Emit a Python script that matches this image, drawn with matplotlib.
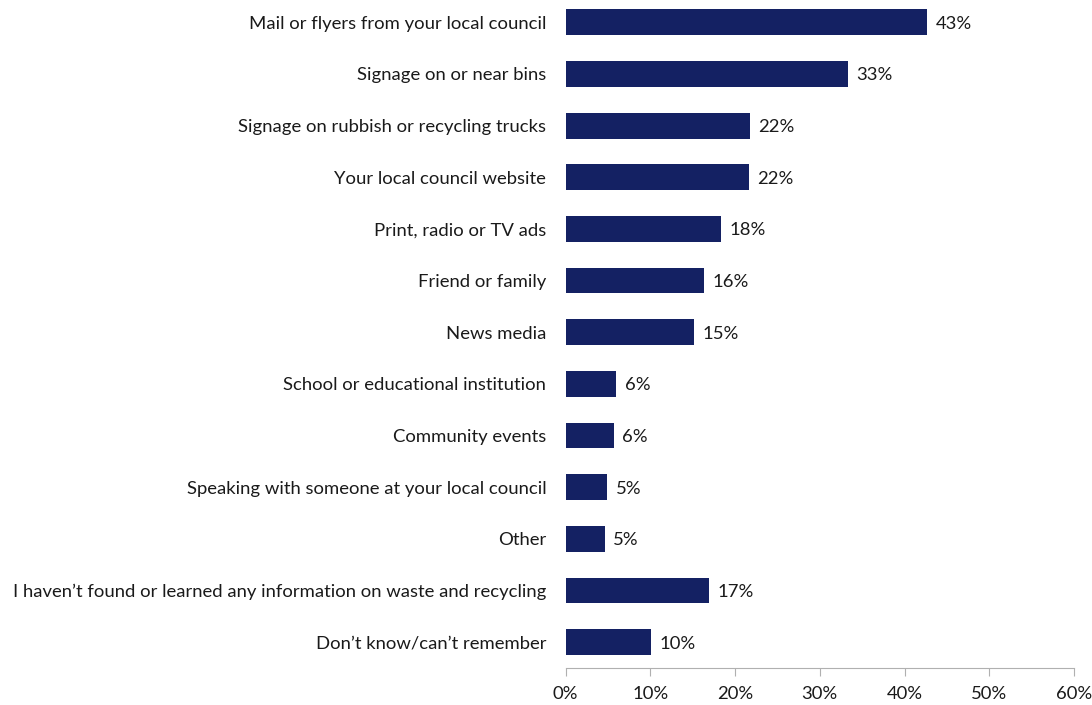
import matplotlib.pyplot as plt
from matplotlib.ticker import PercentFormatter

categories = [
    "Mail or flyers from your local council",
    "Signage on or near bins",
    "Signage on rubbish or recycling trucks",
    "Your local council website",
    "Print, radio or TV ads",
    "Friend or family",
    "News media",
    "School or educational institution",
    "Community events",
    "Speaking with someone at your local council",
    "Other",
    "I haven\u2019t found or learned any information on waste and recycling",
    "Don\u2019t know/can\u2019t remember",
]
shares = [42.7, 33.3, 21.7, 21.6, 18.3, 16.3, 15.1, 6.0, 5.7, 4.9, 4.6, 16.9, 10.1]

bar_color = "#142163"
text_color = "#1a1a1a"
fsize = 13.3

plt.rcParams["font.family"] = ["Lato", "DejaVu Sans"]

fig = plt.figure(figsize=(10.92, 7.05), dpi=100)
ax = fig.add_axes([0.518, 0.0525, 0.4655, 0.9525])

pos = list(range(len(categories)))
ax.barh(pos, shares, height=0.5, color=bar_color)

# value labels just past the end of each bar
for y, v in zip(pos, shares):
    ax.text(v + 1.0, y, f"{v:.0f}%", va="center_baseline", ha="left",
            fontsize=fsize, color=text_color)

ax.set_ylim(len(categories) - 0.5, -0.5)
ax.set_xlim(0, 60)
ax.set_xticks(range(0, 61, 10))
ax.xaxis.set_major_formatter(PercentFormatter(decimals=0))
ax.set_yticks(pos)
ax.set_yticklabels(categories, va="center_baseline")

for side in ("top", "right", "left"):
    ax.spines[side].set_visible(False)
ax.spines["bottom"].set_color("#b0b0b0")
ax.tick_params(axis="x", colors="#b0b0b0", labelcolor=text_color,
               labelsize=fsize, length=6, direction="out", pad=7)
ax.tick_params(axis="y", length=0, labelsize=fsize, labelcolor=text_color, pad=14)

fig.savefig("out.png", dpi=100)
